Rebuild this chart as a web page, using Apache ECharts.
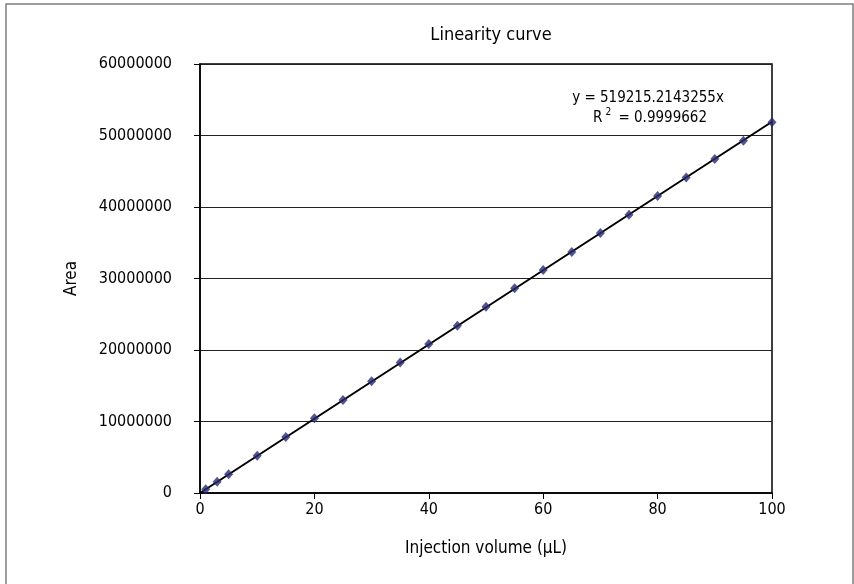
<!DOCTYPE html>
<html>
<head>
<meta charset="utf-8">
<script src="https://cdn.jsdelivr.net/npm/echarts@6/dist/echarts.min.js"></script>
<style>
  html, body { margin: 0; padding: 0; background: #fff; }
  #chart { width: 854px; height: 584px; }
</style>
</head>
<body>
<div id="chart"></div>
<script>
// injection volume (µL) and measured peak area
var volumes = [1, 3, 5, 10, 15, 20, 25, 30, 35, 40, 45, 50, 55, 60, 65, 70, 75, 80, 85, 90, 95, 100];
var areas = [520000, 1560000, 2610000, 5200000, 7820000, 10450000, 13000000, 15620000, 18250000, 20830000,
             23400000, 26050000, 28620000, 31200000, 33720000, 36350000, 38900000, 41530000, 44130000,
             46700000, 49250000, 51850000];
var yTicks = [0, 10000000, 20000000, 30000000, 40000000, 50000000, 60000000];
var xTicks = [0, 20, 40, 60, 80, 100];

// trendline from the equation shown on the chart
var slope = 519215.2143255;
var rSquared = '0.9999662';
var trendX = [0, 100];

var font = "'DejaVu Sans Condensed', 'Liberation Sans Narrow', 'Roboto', sans-serif";

var option = {
    backgroundColor: '#fff',
    animation: false,
    graphic: [{
        type: 'rect',
        shape: { x: 6, y: 4, width: 847, height: 600 },
        style: { fill: 'none', stroke: '#7f7f7f', lineWidth: 1.5 }
    }],
    title: [{
        text: 'Linearity curve',
        left: 486,
        top: 21,
        textAlign: 'center',
        textStyle: { fontFamily: font, fontSize: 18, fontWeight: 'normal', color: '#000' }
    }, {
        text: 'y = ' + slope + 'x',
        left: 643,
        top: 86,
        textAlign: 'center',
        textStyle: { fontFamily: font, fontSize: 15, fontWeight: 'normal', color: '#000' }
    }, {
        text: '{a|R}{s|2}{a| = ' + rSquared + '}',
        left: 645,
        top: 102,
        textAlign: 'center',
        textStyle: {
            rich: {
                a: { fontFamily: font, fontSize: 15, fontWeight: 'normal', color: '#000', verticalAlign: 'bottom' },
                s: { fontFamily: font, fontSize: 10, fontWeight: 'normal', color: '#000', padding: [0, 3, 9, 3], verticalAlign: 'bottom' }
            }
        }
    }],
    grid: {
        left: 200,
        right: 82,
        top: 64,
        bottom: 91,
        show: true,
        borderColor: '#000',
        borderWidth: 1.5,
        containLabel: false
    },
    xAxis: {
        type: 'value',
        min: xTicks[0],
        max: xTicks[xTicks.length - 1],
        interval: 20,
        name: 'Injection volume (µL)',
        nameLocation: 'middle',
        nameGap: 47,
        nameTextStyle: { fontFamily: font, fontSize: 17, color: '#000' },
        axisLine: { show: true, onZero: false, lineStyle: { color: '#000', width: 1.5 } },
        axisTick: { show: true, inside: false, length: 6, lineStyle: { color: '#000' } },
        axisLabel: { fontFamily: font, fontSize: 16, color: '#000', margin: 9 },
        splitLine: { show: false }
    },
    yAxis: {
        type: 'value',
        min: yTicks[0],
        max: yTicks[yTicks.length - 1],
        interval: 10000000,
        name: 'Area',
        nameLocation: 'middle',
        nameGap: 120,
        nameTextStyle: { fontFamily: font, fontSize: 17, color: '#000' },
        axisLine: { show: true, lineStyle: { color: '#000', width: 1.5 } },
        axisTick: { show: true, inside: false, length: 6, lineStyle: { color: '#000' } },
        axisLabel: {
            fontFamily: font, fontSize: 16, color: '#000', margin: 28,
            formatter: function (v) { return String(v); }
        },
        splitLine: { show: true, lineStyle: { color: '#222', width: 1.2 } }
    },
    series: [{
        name: 'Trendline',
        type: 'line',
        data: trendX.map(function (x) { return [x, slope * x]; }),
        symbol: 'none',
        lineStyle: { color: '#000', width: 2 },
        z: 3
    }, {
        name: 'Area',
        type: 'scatter',
        data: volumes.map(function (v, i) { return [v, areas[i]]; }),
        symbol: 'diamond',
        symbolSize: [9, 10],
        itemStyle: { color: '#2b2b72' },
        z: 4
    }]
};

var myChart = echarts.init(document.getElementById('chart'));
myChart.setOption(option);
</script>
</body>
</html>
